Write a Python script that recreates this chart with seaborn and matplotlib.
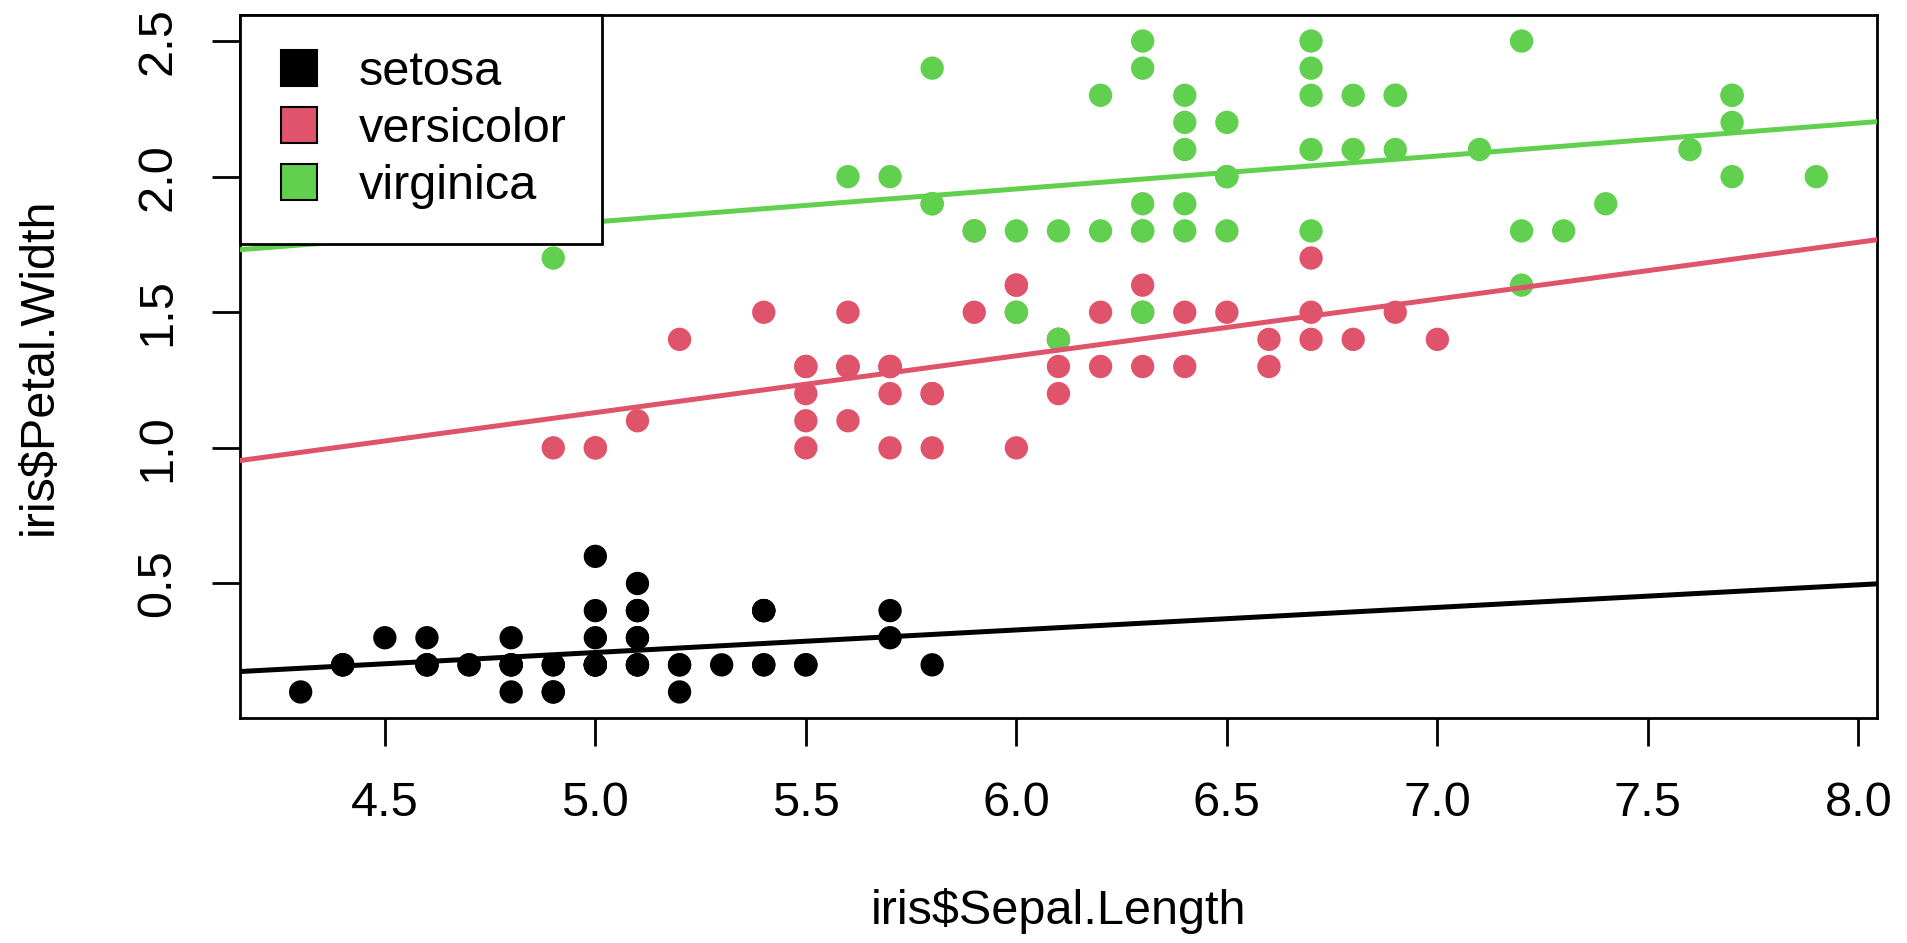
import numpy as np
import pandas as pd
import seaborn as sns
import matplotlib
matplotlib.use("Agg")
import matplotlib.pyplot as plt
from matplotlib.lines import Line2D

# iris: Sepal.Length / Petal.Width per species
setosa_sl = [5.1, 4.9, 4.7, 4.6, 5.0, 5.4, 4.6, 5.0, 4.4, 4.9, 5.4, 4.8, 4.8, 4.3, 5.8, 5.7, 5.4,
             5.1, 5.7, 5.1, 5.4, 5.1, 4.6, 5.1, 4.8, 5.0, 5.0, 5.2, 5.2, 4.7, 4.8, 5.4, 5.2, 5.5,
             4.9, 5.0, 5.5, 4.9, 4.4, 5.1, 5.0, 4.5, 4.4, 5.0, 5.1, 4.8, 5.1, 4.6, 5.3, 5.0]
setosa_pw = [0.2, 0.2, 0.2, 0.2, 0.2, 0.4, 0.3, 0.2, 0.2, 0.1, 0.2, 0.2, 0.1, 0.1, 0.2, 0.4, 0.4,
             0.3, 0.3, 0.3, 0.2, 0.4, 0.2, 0.5, 0.2, 0.2, 0.4, 0.2, 0.2, 0.2, 0.2, 0.4, 0.1, 0.2,
             0.2, 0.2, 0.2, 0.1, 0.2, 0.2, 0.3, 0.3, 0.2, 0.6, 0.4, 0.3, 0.2, 0.2, 0.2, 0.2]
versicolor_sl = [7.0, 6.4, 6.9, 5.5, 6.5, 5.7, 6.3, 4.9, 6.6, 5.2, 5.0, 5.9, 6.0, 6.1, 5.6, 6.7, 5.6,
                 5.8, 6.2, 5.6, 5.9, 6.1, 6.3, 6.1, 6.4, 6.6, 6.8, 6.7, 6.0, 5.7, 5.5, 5.5, 5.8, 6.0,
                 5.4, 6.0, 6.7, 6.3, 5.6, 5.5, 5.5, 6.1, 5.8, 5.0, 5.6, 5.7, 5.7, 6.2, 5.1, 5.7]
versicolor_pw = [1.4, 1.5, 1.5, 1.3, 1.5, 1.3, 1.6, 1.0, 1.3, 1.4, 1.0, 1.5, 1.0, 1.4, 1.3, 1.4, 1.5,
                 1.0, 1.5, 1.1, 1.8, 1.3, 1.5, 1.2, 1.3, 1.4, 1.4, 1.7, 1.5, 1.0, 1.1, 1.0, 1.2, 1.6,
                 1.5, 1.6, 1.5, 1.3, 1.3, 1.3, 1.2, 1.4, 1.2, 1.0, 1.3, 1.2, 1.3, 1.3, 1.1, 1.3]
virginica_sl = [6.3, 5.8, 7.1, 6.3, 6.5, 7.6, 4.9, 7.3, 6.7, 7.2, 6.5, 6.4, 6.8, 5.7, 5.8, 6.4, 6.5,
                7.7, 7.7, 6.0, 6.9, 5.6, 7.7, 6.3, 6.7, 7.2, 6.2, 6.1, 6.4, 7.2, 7.4, 7.9, 6.4, 6.3,
                6.1, 7.7, 6.3, 6.4, 6.0, 6.9, 6.7, 6.9, 5.8, 6.8, 6.7, 6.7, 6.3, 6.5, 6.2, 5.9]
virginica_pw = [2.5, 1.9, 2.1, 1.8, 2.2, 2.1, 1.7, 1.8, 1.8, 2.5, 2.0, 1.9, 2.1, 2.0, 2.4, 2.3, 1.8,
                2.2, 2.3, 1.5, 2.3, 2.0, 2.0, 1.8, 2.1, 1.8, 1.8, 1.8, 2.1, 1.6, 1.9, 2.0, 2.2, 1.5,
                1.4, 2.3, 2.4, 1.8, 1.8, 2.1, 2.4, 2.3, 1.9, 2.3, 2.5, 2.3, 1.9, 2.0, 2.3, 1.8]

species = ["setosa", "versicolor", "virginica"]
colors = ["#000000", "#DF536B", "#61D04F"]
x_ticks = [4.5, 5.0, 5.5, 6.0, 6.5, 7.0, 7.5, 8.0]
y_ticks = [0.5, 1.0, 1.5, 2.0, 2.5]

iris = pd.DataFrame({
    "Sepal.Length": setosa_sl + versicolor_sl + virginica_sl,
    "Petal.Width": setosa_pw + versicolor_pw + virginica_pw,
    "Species": ["setosa"] * 50 + ["versicolor"] * 50 + ["virginica"] * 50,
})

sns.set_style("ticks")
plt.rcParams["font.family"] = ["Liberation Sans", "DejaVu Sans"]
plt.rcParams["text.color"] = "black"
plt.rcParams["axes.labelcolor"] = "black"
FS = 35

fig = plt.figure(figsize=(19.08, 9.43), dpi=100)
ax = fig.add_axes([0.1258, 0.2386, 0.8579, 0.7455])

sns.scatterplot(data=iris, x="Sepal.Length", y="Petal.Width", hue="Species",
                palette=dict(zip(species, colors)), s=282, linewidth=0,
                legend=False, ax=ax, zorder=2)

# per-species least squares lines, extended across the plot
for sp, col in zip(species, colors):
    d = iris[iris["Species"] == sp]
    slope, icept = np.polyfit(d["Sepal.Length"], d["Petal.Width"], 1)
    ax.axline((0, icept), slope=slope, color=col, lw=3.6, zorder=3)

ax.set_xlim(4.156, 8.044)
ax.set_ylim(0.004, 2.596)
ax.set_xticks(x_ticks)
ax.set_xticklabels([f"{v:.1f}" for v in x_ticks])
ax.set_yticks(y_ticks)
ax.set_yticklabels([f"{v:.1f}" for v in y_ticks], rotation=90, va="center")
ax.tick_params(axis="both", direction="out", length=20, width=2, labelsize=FS, colors="black")
ax.tick_params(axis="x", pad=25)
ax.tick_params(axis="y", pad=23)
for sp in ax.spines.values():
    sp.set_linewidth(2)
    sp.set_color("black")

ax.set_xlabel("iris$Sepal.Length", fontsize=FS, va="center")
ax.xaxis.set_label_coords(0.5, -0.2745)
ax.set_ylabel("iris$Petal.Width", fontsize=FS, va="center")
ax.yaxis.set_label_coords(-0.1228, 0.5)

handles = [Line2D([], [], linestyle="None", marker="s", markersize=26,
                  markerfacecolor=c, markeredgecolor="black", markeredgewidth=1.5)
           for c in colors]
leg = ax.legend(handles, species, loc="upper left", borderaxespad=0, fontsize=FS,
                handlelength=0.99, handleheight=0.7, handletextpad=0.74,
                labelspacing=0.25, borderpad=0.72, fancybox=False, framealpha=1,
                edgecolor="black")
leg.get_frame().set_linewidth(2)
leg.set_zorder(10)

fig.savefig("out.png", dpi=100, facecolor="white")
